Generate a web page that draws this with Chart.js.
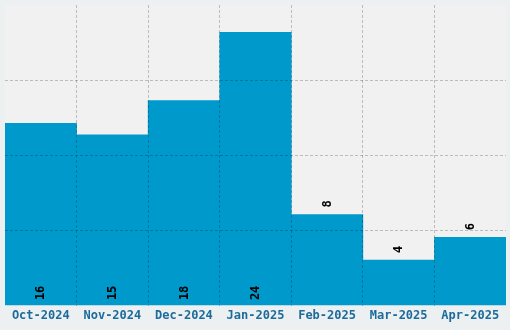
<!DOCTYPE html>
<html>
<head>
<meta charset="utf-8">
<script src="https://cdn.jsdelivr.net/npm/chart.js@4/dist/chart.umd.min.js"></script>
<style>
  html, body { margin: 0; padding: 0; background: #edf0f0; }
  #wrap { width: 510px; height: 330px; position: relative; }
</style>
</head>
<body>
<div id="wrap"><canvas id="c" width="510" height="330"></canvas></div>
<script>
const categories = ["Oct-2024", "Nov-2024", "Dec-2024", "Jan-2025", "Feb-2025", "Mar-2025", "Apr-2025"];
const values = [16, 15, 18, 24, 8, 4, 6];
const yMax = 26.4;
const yStep = 6.6;
const insideThreshold = 10;

const FONT = '"DejaVu Sans Mono", monospace';
const GRID = 'rgba(0,0,0,0.22)';
const NONE = 'rgba(0,0,0,0)';

const bgPlugin = {
  id: 'bg',
  beforeDraw(chart) {
    const { ctx, chartArea: a } = chart;
    ctx.save();
    ctx.fillStyle = '#edf0f0';
    ctx.fillRect(0, 0, chart.width, chart.height);
    ctx.fillStyle = '#f1f1f1';
    ctx.fillRect(a.left, a.top, a.right - a.left, a.bottom - a.top);
    ctx.restore();
  }
};

const labelPlugin = {
  id: 'vlabels',
  afterDraw(chart) {
    const { ctx } = chart;
    const meta = chart.getDatasetMeta(0);
    ctx.save();
    ctx.font = 'bold 12px ' + FONT;
    ctx.fillStyle = '#000000';
    ctx.textBaseline = 'middle';
    ctx.textAlign = 'left';
    meta.data.forEach((bar, i) => {
      const v = values[i];
      const y = v >= insideThreshold ? bar.base - 5 : bar.y - 7;
      ctx.save();
      ctx.translate(bar.x + 0.5, y);
      ctx.rotate(-Math.PI / 2);
      ctx.fillText(String(v), 0, 0);
      ctx.restore();
    });
    ctx.restore();
  }
};

new Chart(document.getElementById('c'), {
  type: 'bar',
  data: {
    labels: categories,
    datasets: [{
      data: values,
      backgroundColor: '#0099cc',
      borderWidth: 0,
      barPercentage: 1.0,
      categoryPercentage: 1.0
    }]
  },
  options: {
    responsive: false,
    animation: false,
    devicePixelRatio: 1,
    layout: { padding: { left: 5, right: 4, top: 5, bottom: 4 } },
    plugins: { legend: { display: false }, tooltip: { enabled: false } },
    scales: {
      x: {
        grid: {
          offset: true,
          z: 1,
          drawTicks: false,
          lineWidth: 1,
          color: (ctx) => (ctx.type !== 'tick' || ctx.index === 0) ? NONE : GRID
        },
        border: { display: false, dash: [3, 2] },
        ticks: {
          color: '#1c6b9c',
          font: { family: FONT, size: 12, weight: 'bold' },
          padding: 3,
          maxRotation: 0,
          autoSkip: false
        }
      },
      y: {
        min: 0,
        max: yMax,
        grid: {
          z: 1,
          drawTicks: false,
          lineWidth: 1,
          color: (ctx) => (ctx.type !== 'tick' || ctx.index === 0 || Math.abs(ctx.tick.value - yMax) < 1e-6) ? NONE : GRID
        },
        border: { display: false, dash: [3, 2] },
        ticks: { display: false, stepSize: yStep },
        afterFit(scale) { scale.width = 0; }
      }
    }
  },
  plugins: [bgPlugin, labelPlugin]
});
</script>
</body>
</html>
